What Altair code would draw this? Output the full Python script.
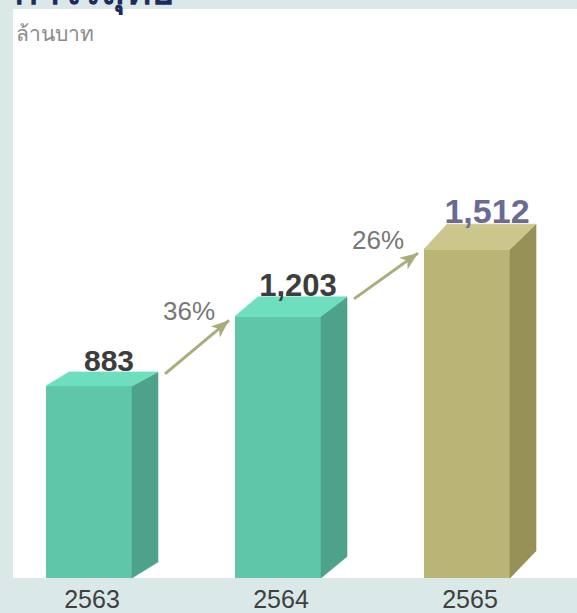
import math
import altair as alt
import pandas as pd

# ---------------- data ----------------
years = ["2563", "2564", "2565"]
profit = [883, 1203, 1512]
value_labels = ["883", "1,203", "1,512"]
growth_labels = ["36%", "26%"]
title_text = "กำไรสุทธิ"
unit_text = "ล้านบาท"

# ---------------- style / geometry ----------------
W, H = 564, 569
PX_PER_CAT = 189.0
PX_PER_UNIT = 0.2175
X0 = -76 / PX_PER_CAT
x_scale = alt.Scale(domain=[X0, X0 + W / PX_PER_CAT], nice=False, zero=False)
y_scale = alt.Scale(domain=[0, H / PX_PER_UNIT], nice=False, zero=False)


def px_x(p):
    return p / PX_PER_CAT


def px_y(p):
    return p / PX_PER_UNIT


HALF = px_x(43)
DXR = px_x(26)
DXL = px_x(23)
DY_TOP = [14, 19.5, 25]
DY_BOT = [16, 21.5, 27]
FRONT = ["#5fc6aa", "#5fc6aa", "#b9b577"]
SIDE = ["#4da289", "#4da289", "#969156"]
TOP = ["#6ddfbf", "#6ddfbf", "#cbc68b"]
LABEL_COLORS = ["#3d3d3d", "#3d3d3d", "#6a6a94"]
LABEL_SIZES = [30, 31, 34]
ARROW_COLOR = "#abac79"
FONT = "Liberation Sans, Noto Sans, DejaVu Sans, sans-serif"

X = alt.X("x:Q", scale=x_scale, axis=None)
Y = alt.Y("y:Q", scale=y_scale, axis=None)

# front faces
front_df = pd.DataFrame({
    "bar": years,
    "x": [i - HALF for i in range(3)],
    "x2": [i + HALF for i in range(3)],
    "y": [0] * 3,
    "y2": profit,
    "c": FRONT,
})
front = alt.Chart(front_df).mark_rect().encode(
    x=X, x2="x2:Q", y=Y, y2="y2:Q",
    color=alt.Color("c:N", scale=None),
)

# side faces
side_rows = []
for i, v in enumerate(profit):
    side_rows.append({"bar": years[i], "x": i + HALF, "y": v, "y2": 0, "c": SIDE[i]})
    side_rows.append({"bar": years[i], "x": i + HALF + DXR, "y": v + px_y(DY_TOP[i]),
                      "y2": px_y(DY_BOT[i]), "c": SIDE[i]})
side = alt.Chart(pd.DataFrame(side_rows)).mark_area(orient="vertical", strokeWidth=0.6).encode(
    x=X, y=Y, y2="y2:Q",
    color=alt.Color("c:N", scale=None),
    stroke=alt.Stroke("c:N", scale=None),
    detail="bar:N",
)

# top faces
top_rows = []
for i, v in enumerate(profit):
    top_rows.append({"bar": years[i], "y": v, "x": i - HALF, "x2": i + HALF, "c": TOP[i]})
    top_rows.append({"bar": years[i], "y": v + px_y(DY_TOP[i]), "x": i - HALF + DXL,
                     "x2": i + HALF + DXR, "c": TOP[i]})
top = alt.Chart(pd.DataFrame(top_rows)).mark_area(orient="horizontal", strokeWidth=0.6).encode(
    y=Y, x=X, x2="x2:Q",
    color=alt.Color("c:N", scale=None),
    stroke=alt.Stroke("c:N", scale=None),
    detail="bar:N",
)

# value labels
lab_df = pd.DataFrame({
    "x": [i + px_x(20) for i in range(3)],
    "y": [v + px_y(DY_TOP[i]) for i, v in enumerate(profit)],
    "t": value_labels,
    "c": LABEL_COLORS,
    "s": LABEL_SIZES,
})
labels = alt.Chart(lab_df).mark_text(
    font=FONT, fontWeight="bold", align="center", baseline="alphabetic", dy=-1
).encode(
    x=X, y=Y, text="t:N",
    color=alt.Color("c:N", scale=None),
    size=alt.Size("s:Q", scale=None),
)

# year labels
year_df = pd.DataFrame({"x": [i + px_x(3) for i in range(3)], "t": years})
year_text = alt.Chart(year_df).mark_text(
    font=FONT, fontSize=25, color="#404040", align="center", baseline="alphabetic"
).encode(x=X, y=alt.value(H + 30), text="t:N")

# growth arrows
arr_rows = []
for k in range(2):
    x1 = k + HALF + DXR + px_x(7)
    y1 = profit[k] + px_y(DY_TOP[k] - 2)
    x2 = k + 1 - HALF - px_x(6)
    y2 = profit[k + 1] - px_y(4)
    ddx = (x2 - x1) * PX_PER_CAT
    ddy = (y2 - y1) * PX_PER_UNIT
    ang = math.degrees(math.atan2(ddx, ddy))
    arr_rows.append({"x": x1, "y": y1, "x2": x2, "y2": y2, "ang": ang,
                     "t": growth_labels[k],
                     "lx": (x1 + x2) / 2 - px_x(8), "ly": (y1 + y2) / 2 + px_y(27)})
arr_df = pd.DataFrame(arr_rows)

shaft = alt.Chart(arr_df).mark_rule(strokeWidth=3, color=ARROW_COLOR).encode(
    x=X, y=Y, x2="x2:Q", y2="y2:Q"
)
HEAD = "M0,0 L-0.4,1 L0,0.72 L0.4,1 Z"
head = alt.Chart(arr_df).mark_point(
    shape=HEAD, filled=True, opacity=1, color=ARROW_COLOR, size=1296, strokeWidth=0
).encode(
    x=alt.X("x2:Q", scale=x_scale, axis=None),
    y=alt.Y("y2:Q", scale=y_scale, axis=None),
    angle=alt.Angle("ang:Q", scale=None),
)
growth = alt.Chart(arr_df).mark_text(
    font=FONT, fontSize=26, color="#777777", align="center", baseline="alphabetic"
).encode(
    x=alt.X("lx:Q", scale=x_scale, axis=None),
    y=alt.Y("ly:Q", scale=y_scale, axis=None),
    text="t:N",
)

# title (cut off at top) and unit
title_df = pd.DataFrame({"t": [title_text]})
title = alt.Chart(title_df).mark_text(
    font=FONT, fontSize=40, fontWeight="bold", color="#1e2b5e", align="left", baseline="alphabetic"
).encode(x=alt.value(1), y=alt.value(-5), text="t:N")
unit_df = pd.DataFrame({"t": [unit_text]})
unit = alt.Chart(unit_df).mark_text(
    font=FONT, fontSize=21, color="#8a8a8a", align="left", baseline="alphabetic"
).encode(x=alt.value(3), y=alt.value(32), text="t:N")

chart = alt.layer(
    front, side, top, shaft, head, labels, growth, year_text, title, unit
).properties(
    width=W, height=H,
    padding={"left": 13, "top": 9, "right": 0, "bottom": 35},
    autosize=alt.AutoSizeParams(type="none"),
    background="#dae9e8",
).configure_view(fill="white", stroke=None)

chart.save("out.html", embed_options={"renderer": "svg", "actions": False})
